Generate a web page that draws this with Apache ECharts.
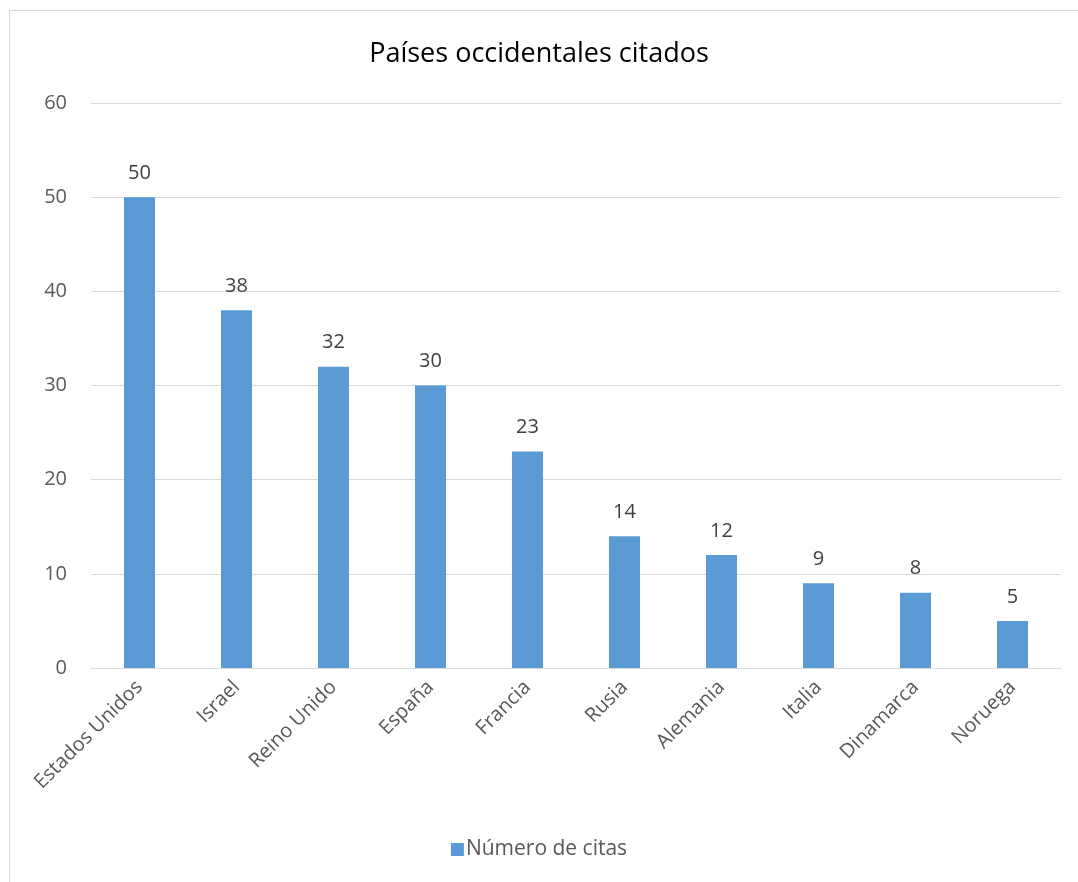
<!DOCTYPE html>
<html><head><meta charset="utf-8">
<script src="https://cdn.jsdelivr.net/npm/echarts@6/dist/echarts.min.js"></script>
<style>
html,body{margin:0;padding:0;background:#fff;}
#frame{position:absolute;left:9px;top:10px;width:1080px;height:890px;border:1px solid #d9d9d9;box-sizing:border-box;}
#chart{position:absolute;left:0;top:0;width:1078px;height:882px;}
</style></head>
<body>
<div id="frame"></div>
<div id="chart"></div>
<script>
const categories = ["Estados Unidos","Israel","Reino Unido","España","Francia","Rusia","Alemania","Italia","Dinamarca","Noruega"];
const citas = [50,38,32,30,23,14,12,9,8,5];
const seriesName = "Número de citas";
const titleText = "Países occidentales citados";

const font = "'Open Sans', 'Noto Sans', sans-serif";
const chart = echarts.init(document.getElementById('chart'), null, {renderer:'canvas'});
chart.setOption({
  backgroundColor: 'transparent',
  animation: false,
  textStyle: {fontFamily: font},
  title: {text: titleText, left: 'center', top: 36,
    textStyle: {fontFamily: font, fontSize: 27, fontWeight: 'normal', color: '#000'}},
  legend: {bottom: 17, left: 'center', itemWidth: 13, itemHeight: 13, itemGap: 5,
    icon: 'rect',
    textStyle: {fontFamily: font, fontSize: 21, color: '#595959', padding:[0,0,0,-3]}},
  grid: {left: 91, right: 17, top: 103, bottom: 214, containLabel: false},
  xAxis: {type: 'category', data: categories,
    axisLine: {lineStyle: {color: '#d9d9d9', width: 1}},
    axisTick: {show: false},
    axisLabel: {rotate: 45, fontSize: 20, color: '#595959', fontFamily: font, margin: 16, interval: 0}},
  yAxis: {type: 'value', min: 0, max: 60, interval: 10,
    axisLine: {show: false}, axisTick: {show: false},
    splitLine: {lineStyle: {color: '#d9d9d9', width: 1}},
    axisLabel: {fontSize: 20, color: '#595959', fontFamily: font, margin: 24}},
  series: [{name: seriesName, type: 'bar', data: citas, barWidth: 31,
    itemStyle: {color: '#5b9bd5'},
    label: {show: true, position: 'top', distance: 14, fontSize: 20, color: '#404040', fontFamily: font}}]
});
</script>
</body></html>
